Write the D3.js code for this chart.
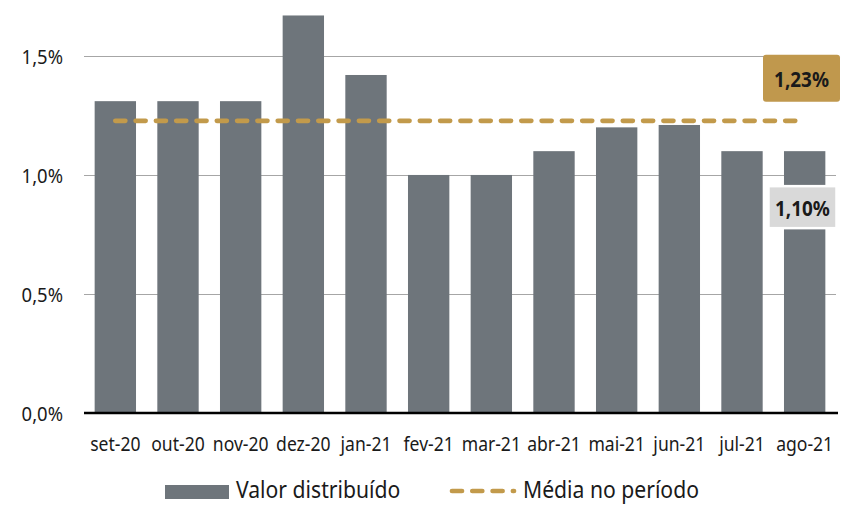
<!DOCTYPE html>
<html>
<head>
<meta charset="utf-8">
<script src="https://cdn.jsdelivr.net/npm/d3@7"></script>
<style>
  body { margin: 0; background: #fff; }
  svg { display: block; font-family: "Noto Sans", "Open Sans", sans-serif; }
</style>
</head>
<body>
<div id="chart"></div>
<script>
// data
var months = ["set-20", "out-20", "nov-20", "dez-20", "jan-21", "fev-21", "mar-21", "abr-21", "mai-21", "jun-21", "jul-21", "ago-21"];
var values = [1.31, 1.31, 1.31, 1.67, 1.42, 1.00, 1.00, 1.10, 1.20, 1.21, 1.10, 1.10];
var yTicks = [0, 0.5, 1.0, 1.5];
var legendLabels = ["Valor distribuído", "Média no período"];

var width = 841, height = 505;
var margin = {top: 0, right: 5, bottom: 93, left: 84};

var svg = d3.select("#chart").append("svg")
	.attr("width", width)
	.attr("height", height);

var x = d3.scaleBand()
	.domain(months)
	.range([margin.left, width - margin.right])
	.paddingInner(0.34)
	.paddingOuter(0.17);

var y = d3.scaleLinear()
	.domain([0, 1.735])
	.range([413, 0]);

var fmt = function(v, dec){ return v.toFixed(dec).replace(".", ",") + "%"; };

// squished text, the source font is narrower than ours
function addText(parent, tx, ty, str, size, anchor, weight){
	return parent.append("g")
		.attr("transform", "translate(" + tx + "," + ty + ") scale(0.9,1)")
	  .append("text")
		.attr("text-anchor", anchor)
		.attr("dominant-baseline", "central")
		.style("font-size", size + "px")
		.style("font-weight", weight || "normal")
		.attr("fill", "#1a1a1a")
		.text(str);
}

// gridlines
svg.append("g")
	.selectAll("line")
	.data(yTicks.filter(function(d){ return d > 0; }))
	.enter().append("line")
	  .attr("x1", 84).attr("x2", 836)
	  .attr("y1", function(d){ return Math.round(y(d)) + 0.5; })
	  .attr("y2", function(d){ return Math.round(y(d)) + 0.5; })
	  .attr("stroke", "#a6a6a6")
	  .attr("stroke-width", 1);

// y tick labels
yTicks.forEach(function(t){
	addText(svg, 63, y(t), fmt(t, 1), 20.5, "end");
});

// bars
svg.append("g")
	.selectAll("rect")
	.data(values)
	.enter().append("rect")
	  .attr("x", function(d, i){ return x(months[i]); })
	  .attr("y", function(d){ return y(d); })
	  .attr("width", x.bandwidth())
	  .attr("height", function(d){ return y(0) - y(d); })
	  .attr("fill", "#6e757b");

// baseline
svg.append("line")
	.attr("x1", 84).attr("x2", 838)
	.attr("y1", y(0)).attr("y2", y(0))
	.attr("stroke", "#000")
	.attr("stroke-width", 2.6);

// x labels
months.forEach(function(m){
	addText(svg, x(m) + x.bandwidth() / 2, 443, m, 19.5, "middle");
});

// average line
var mean = d3.mean(values);
svg.append("line")
	.attr("x1", x(months[0]) + x.bandwidth() / 2)
	.attr("x2", x(months[months.length - 1]) + x.bandwidth() / 2)
	.attr("y1", y(mean)).attr("y2", y(mean))
	.attr("stroke", "#c29a4b")
	.attr("stroke-width", 4.7)
	.attr("stroke-linecap", "round")
	.attr("stroke-dasharray", "10,10.3");

// mean label box
var gx = 763, gy = y(mean) - 66;
svg.append("rect")
	.attr("x", gx).attr("y", gy)
	.attr("width", 77).attr("height", 47)
	.attr("rx", 3)
	.attr("fill", "#c0984d");
addText(svg, gx + 38.5, gy + 24, fmt(mean, 2), 21, "middle", "bold");

// last value label box
var last = values[values.length - 1];
var lx = x(months[months.length - 1]) - 15.5, ly = y(last) + 35;
svg.append("rect")
	.attr("x", lx).attr("y", ly)
	.attr("width", 68).attr("height", 42)
	.attr("fill", "#d9d9d9")
	.attr("stroke", "#fff")
	.attr("stroke-width", 2.5);
addText(svg, lx + 34, ly + 21.5, fmt(last, 2), 21, "middle", "bold");

// legend
var leg = svg.append("g");
leg.append("rect")
	.attr("x", 165).attr("y", 485)
	.attr("width", 64).attr("height", 14)
	.attr("fill", "#6e757b");
addText(leg, 236, 489.5, legendLabels[0], 23.5, "start");
leg.append("line")
	.attr("x1", 452).attr("x2", 514)
	.attr("y1", 491).attr("y2", 491)
	.attr("stroke", "#c29a4b")
	.attr("stroke-width", 4.7)
	.attr("stroke-linecap", "round")
	.attr("stroke-dasharray", "10,10.3");
addText(leg, 523, 489.5, legendLabels[1], 23.5, "start");
</script>
</body>
</html>
